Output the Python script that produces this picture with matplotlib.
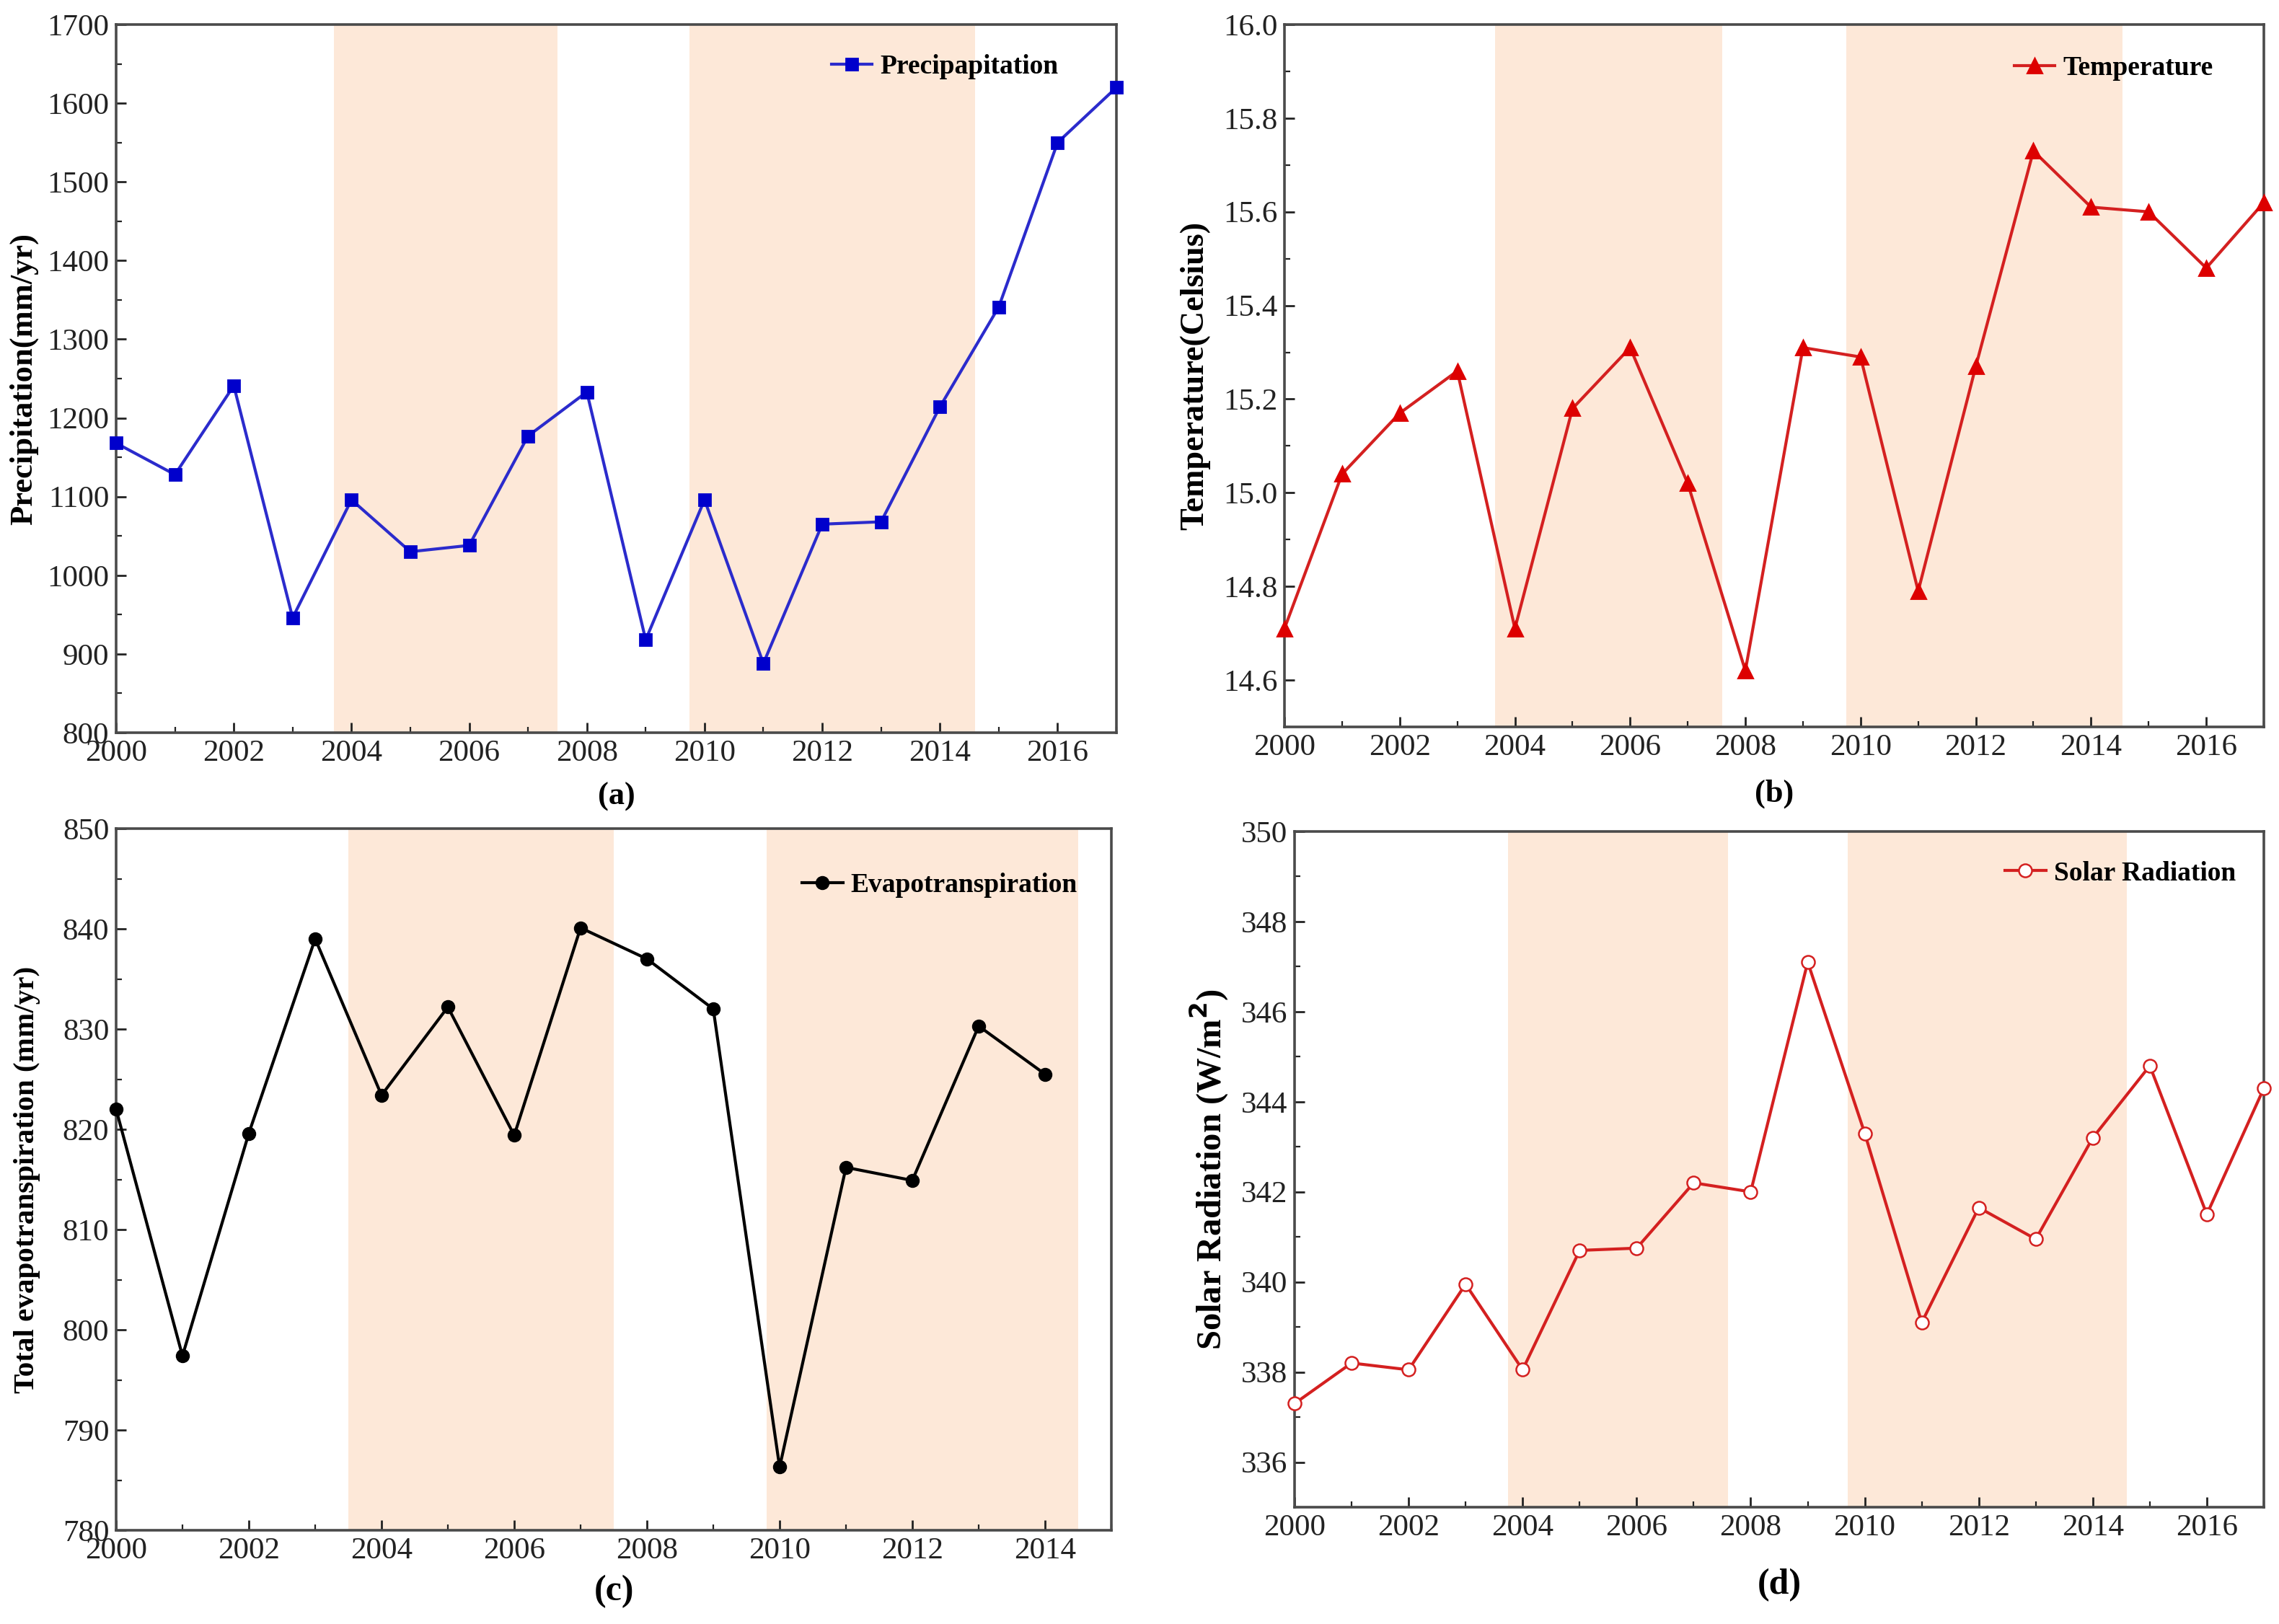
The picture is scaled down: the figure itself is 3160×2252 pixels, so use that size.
#!/usr/bin/env python3
# Four-panel climate time series (precipitation, temperature, ET, solar radiation)

import matplotlib
matplotlib.use('Agg')
import matplotlib.pyplot as plt
from matplotlib.ticker import MultipleLocator, FormatStrFormatter

plt.rcParams['font.family'] = ['Liberation Serif', 'DejaVu Serif']

# ---- data ----
years = list(range(2000, 2018))
years_et = list(range(2000, 2015))

precip = [1168, 1128, 1241, 946, 1096, 1030, 1038, 1177, 1233, 918,
          1096, 888, 1065, 1068, 1214, 1341, 1550, 1620]
temp = [14.71, 15.04, 15.17, 15.26, 14.71, 15.18, 15.31, 15.02, 14.62, 15.31,
        15.29, 14.79, 15.27, 15.73, 15.61, 15.60, 15.48, 15.62]
evap = [822.0, 797.4, 819.6, 839.0, 823.4, 832.2, 819.4, 840.1, 837.0, 832.0,
        786.3, 816.2, 814.9, 830.3, 825.5]
solar = [337.3, 338.2, 338.05, 339.95, 338.05, 340.7, 340.75, 342.2, 342.0, 347.1,
         343.3, 339.1, 341.65, 340.95, 343.2, 344.8, 341.5, 344.3]

spans_a = [(2003.7, 2007.5), (2009.75, 2014.6)]
spans_b = [(2003.65, 2007.6), (2009.75, 2014.55)]
spans_c = [(2003.5, 2007.5), (2009.8, 2014.5)]
spans_d = [(2003.75, 2007.6), (2009.7, 2014.6)]

shade = '#fde8d8'
spine_col = '#4a4a4a'


def style_axes(ax, spans, xlim, ylim, ymajor, yminor, ylabel, label_size,
               label_x, tag, tag_y, tag_size, leg_anchor):
    for s0, s1 in spans:
        ax.axvspan(s0, s1, color=shade, lw=0, zorder=0)
    ax.set_xlim(*xlim)
    ax.set_ylim(*ylim)
    ax.xaxis.set_major_locator(MultipleLocator(2))
    ax.xaxis.set_minor_locator(MultipleLocator(1))
    ax.yaxis.set_major_locator(MultipleLocator(ymajor))
    ax.yaxis.set_minor_locator(MultipleLocator(yminor))
    ax.tick_params(which='both', direction='in', top=False, right=False,
                   labelsize=15.5, colors='#222222')
    ax.tick_params(which='major', length=5, width=1)
    ax.tick_params(which='minor', length=3, width=0.8)
    for sp in ax.spines.values():
        sp.set_color(spine_col)
        sp.set_linewidth(1.3)
    ax.set_ylabel(ylabel, fontsize=label_size, fontweight='bold')
    ax.yaxis.set_label_coords(label_x, 0.5)
    ax.text(0.5, tag_y, tag, transform=ax.transAxes, ha='center', va='center',
            fontsize=tag_size, fontweight='bold')
    ax.legend(loc='center right', bbox_to_anchor=leg_anchor, frameon=False,
              prop={'weight': 'bold', 'size': 13.5}, handlelength=1.5,
              handletextpad=0.3, borderaxespad=0, borderpad=0)


fig = plt.figure(figsize=(15.8, 11.26), dpi=200)

# (a) precipitation
ax1 = fig.add_axes([161 / 3160, 1 - 1016 / 2252, 1387 / 3160, 982 / 2252])
ax1.plot(years, precip, color='#2b2bcc', lw=1.5, marker='s', ms=6,
         mfc='#0000cc', mec='#0000cc', label='Precipapitation', clip_on=False, zorder=3)
style_axes(ax1, spans_a, (2000, 2017), (800, 1700), 100, 50,
           'Precipitation(mm/yr)', 16, -0.078, '(a)', -0.09, 16, (0.942, 0.94))

# (b) temperature
ax2 = fig.add_axes([1781 / 3160, 1 - 1008 / 2252, 1358 / 3160, 974 / 2252])
ax2.plot(years, temp, color='#d42020', lw=1.5, marker='^', ms=7,
         mfc='#dd0000', mec='#dd0000', label='Temperature', clip_on=False, zorder=3)
style_axes(ax2, spans_b, (2000, 2017), (14.5, 16.0), 0.2, 0.1,
           'Temperature(Celsius)', 16.6, -0.076, '(b)', -0.095, 16, (0.948, 0.938))
ax2.yaxis.set_major_formatter(FormatStrFormatter('%.1f'))

# (c) evapotranspiration
ax3 = fig.add_axes([161 / 3160, 1 - 2122 / 2252, 1380 / 3160, 973 / 2252])
ax3.plot(years_et, evap, color='black', lw=1.5, marker='o', ms=6,
         mfc='black', mec='black', label='Evapotranspiration', clip_on=False, zorder=3)
style_axes(ax3, spans_c, (2000, 2015), (780, 850), 10, 5,
           'Total evapotranspiration (mm/yr)', 14.8, -0.076, '(c)', -0.087, 18,
           (0.966, 0.919))

# (d) solar radiation
ax4 = fig.add_axes([1795 / 3160, 1 - 2090 / 2252, 1344 / 3160, 937 / 2252])
ax4.plot(years, solar, color='#d42020', lw=1.5, marker='o', ms=6.5,
         mfc='white', mec='#d42020', mew=0.9, label='Solar Radiation',
         clip_on=False, zorder=3)
style_axes(ax4, spans_d, (2000, 2017), (335, 350), 2, 1,
           'Solar Radiation (W/m$^\\mathbf{2}$)', 17.5, -0.066, '(d)', -0.115, 18,
           (0.971, 0.938))

fig.savefig('out.png', dpi=200)
